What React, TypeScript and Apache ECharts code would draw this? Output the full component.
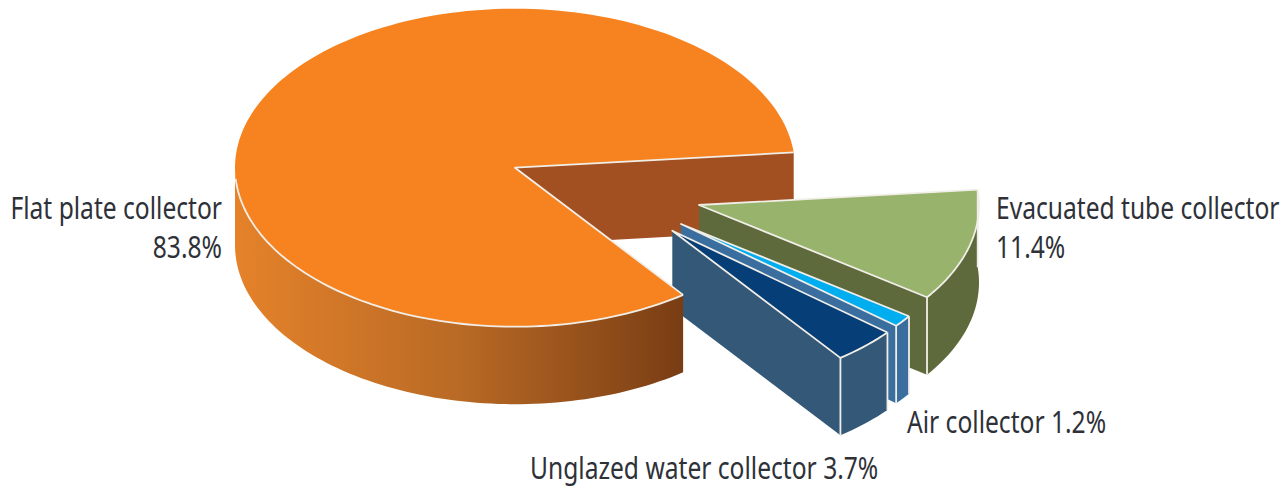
import React, { useEffect, useRef } from "react";
import * as echarts from "echarts";

const categories = ["Flat plate collector", "Evacuated tube collector", "Air collector", "Unglazed water collector"];
const values = [83.8, 11.4, 1.2, 3.7];
const labelLines = [["Flat plate collector", "83.8%"], ["Evacuated tube collector", "11.4%"], ["Air collector 1.2%"], ["Unglazed water collector 3.7%"]];

const START_ANGLE = 53.1;
const RX = 280, RY = 159, DEPTH = 77.5;
const centers = [[515, 167.7], [699, 205], [681, 224], [672.3, 230.7]];
const topColors = ["#F78320", "#97B36C", "#00AEEF", "#063E78"];
const wallColors = ["#A25022", "#5F6A3C", "#3A6E9F", "#345877"];
const EDGE = "#F1EEE8";
const labelAnchors: [number, number, string][] = [[222, 223, "right"], [996, 223, "left"], [907, 437, "left"], [530, 483, "left"]];
const FONT_SIZE = 30;
const SCALE_X = 0.82;
const LINE_GAP = 39;

const total = values.reduce((a, b) => a + b, 0);
const rad = (d: number) => (d * Math.PI) / 180;

function App() {
  const ref = useRef<HTMLDivElement>(null);
  useEffect(() => {
    const chart = echarts.init(ref.current!, null, { renderer: "svg" });
    const angles: number[] = [START_ANGLE];
    values.forEach((v, i) => angles.push(angles[i] + (v / total) * 360));

    const renderItem = (params: any) => {
      const i = params.dataIndex;
      const [cx, cy] = centers[i];
      const a0 = angles[i], a1 = angles[i + 1];
      const pt = (a: number, dz = 0) => [cx + RX * Math.cos(rad(a)), cy + RY * Math.sin(rad(a)) + dz];
      const arc = (from: number, to: number, dz = 0) => {
        const n = Math.max(2, Math.ceil(Math.abs(to - from) / 1.5));
        const out: number[][] = [];
        for (let k = 0; k <= n; k++) out.push(pt(from + ((to - from) * k) / n, dz));
        return out;
      };
      const apex = [cx, cy], apexB = [cx, cy + DEPTH];
      const children: any[] = [];
      // Stacking: the cut-out's back wall lies behind the exploded slices, the big slice in front of them.
      const layer = i === 0 ? 50 : i * 10;
      let seq = 0;
      const poly = (points: number[][], fill: any, z2 = layer + seq++) =>
        children.push({ type: "polygon", silent: true, z2, shape: { points }, style: { fill } });
      const line = (points: number[][]) =>
        children.push({ type: "polyline", silent: true, z2: layer + seq++, shape: { points }, style: { fill: "none", stroke: EDGE, lineWidth: 1.8, lineJoin: "round" } });

      if (i === 0) {
        poly([apex, pt(a1), pt(a1, DEPTH), apexB], wallColors[0], 0);
        poly([...arc(a0, 180), ...arc(180, a0, DEPTH)], new echarts.graphic.LinearGradient(0, 0, 1, 0, [
          { offset: 0, color: "#E5822A" },
          { offset: 0.5, color: "#B96A25" },
          { offset: 1, color: "#793D14" },
        ]));
        poly([apex, ...arc(a0, a1)], topColors[0]);
        line(arc(a0, 176));
        line([pt(a1), apex, pt(a0)]);
      } else {
        poly([apex, pt(a1), pt(a1, DEPTH), apexB], wallColors[i]);
        const rimStart = Math.max(a0, 0);
        poly([...arc(rimStart, a1), ...arc(a1, rimStart, DEPTH)], wallColors[i]);
        poly([apex, ...arc(a0, a1)], topColors[i]);
        line([pt(a0), apex, pt(a1), ...arc(a1, a0)]);
        line([pt(a1), pt(a1, DEPTH)]);
        if (a0 > 0) line([pt(a0), pt(a0, DEPTH)]);
      }

      labelLines[i].forEach((txt, k) => {
        const [lx, ly, align] = labelAnchors[i];
        children.push({
          type: "text",
          silent: true,
          z2: 100,
          x: lx,
          y: ly + k * LINE_GAP,
          scaleX: SCALE_X,
          style: {
            text: txt,
            x: 0,
            y: 0,
            fill: "#2E3138",
            fontFamily: "Noto Sans",
            fontSize: FONT_SIZE,
            textAlign: align,
            textVerticalAlign: "bottom",
          },
        });
      });
      return { type: "group", children };
    };

    chart.setOption({
      animation: false,
      backgroundColor: "#ffffff",
      series: [
        {
          type: "custom",
          coordinateSystem: "none",
          renderItem,
          data: categories.map((name, i) => ({ name, value: values[i] })),
        },
      ],
    });
    return () => chart.dispose();
  }, []);
  return <div ref={ref} style={{ position: "fixed", left: 0, top: 0, width: 1283, height: 488 }} />;
}

export default App;
